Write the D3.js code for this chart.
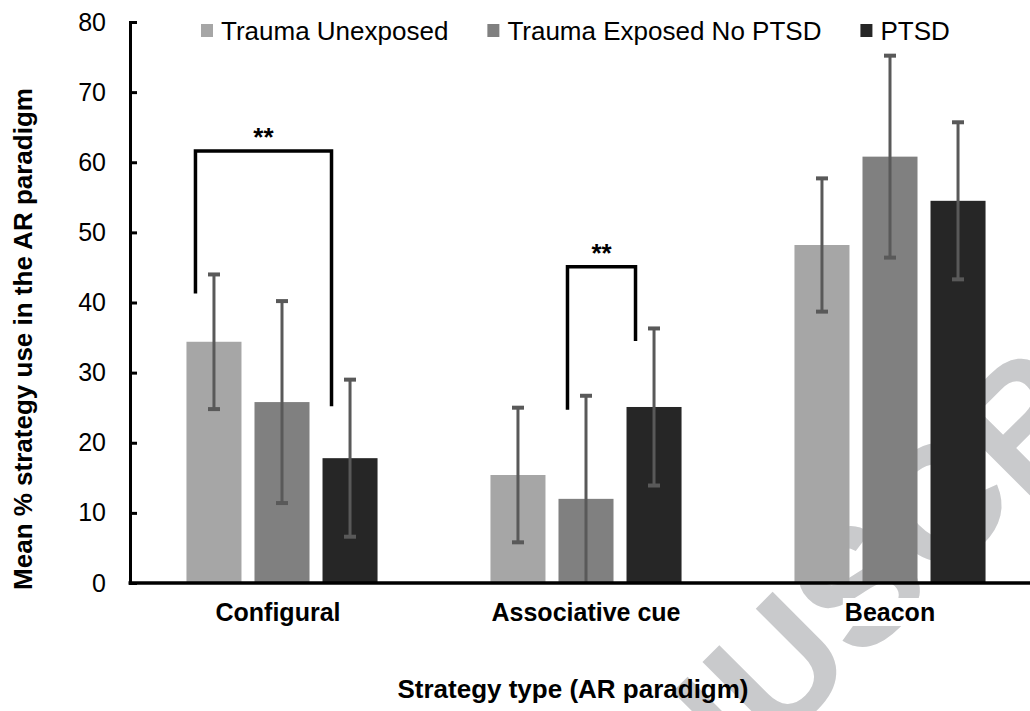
<!DOCTYPE html>
<html>
<head>
<meta charset="utf-8">
<script src="https://cdn.jsdelivr.net/npm/d3@7"></script>
<style>
  body { margin: 0; background: #fff; }
  svg { display: block; font-family: "Liberation Sans", Arial, sans-serif; }
</style>
</head>
<body>
<svg id="chart" width="1030" height="711"></svg>
<script>
// ---- data ----
let categories = ["Configural", "Associative cue", "Beacon"];
let groups = ["Trauma Unexposed", "Trauma Exposed No PTSD", "PTSD"];
let groupColors = ["#a6a6a6", "#808080", "#262626"];
// mean % per group, one entry per category
let unexposedMean = [34.4, 15.4, 48.2];
let exposedMean = [25.8, 12.0, 60.8];
let ptsdMean = [17.8, 25.1, 54.5];
// error (+/-)
let unexposedErr = [9.6, 9.6, 9.5];
let exposedErr = [14.4, 14.7, 14.4];
let ptsdErr = [11.2, 11.2, 11.2];
let yTicks = [0, 10, 20, 30, 40, 50, 60, 70, 80];
// significance brackets: category, left group, right group, top, left leg end, right leg end
let brackets = [
  {cat: "Configural", g1: 0, g2: 2, top: 61.6, leftEnd: 41.3, rightEnd: 25.2, label: "**"},
  {cat: "Associative cue", g1: 1, g2: 2, top: 45.1, leftEnd: 24.7, rightEnd: 34.5, label: "**"}
];

let means = [unexposedMean, exposedMean, ptsdMean];
let errs = [unexposedErr, exposedErr, ptsdErr];

let svg = d3.select("#chart");
let left = 130, plotRight = 1042, y0px = 583, yTop = 22;

let x = d3.scaleBand().domain(categories).range([left, plotRight]).padding(0);
let xSub = d3.scaleBand().domain(d3.range(groups.length))
    .range([0, x.bandwidth()]).paddingInner(13 / 68).paddingOuter(0.83);
let y = d3.scaleLinear().domain([0, 80]).range([y0px, yTop]);

// watermark (behind everything)
svg.append("text")
    .attr("transform", "translate(510,1015) rotate(-45)")
    .attr("font-size", 165)
    .attr("font-weight", "bold")
    .attr("fill", "#c9cacc")
    .text("MANUSCRIPT");

// bars
let rows = [];
categories.forEach(function(c, ci) {
  groups.forEach(function(g, gi) {
    rows.push({cat: c, g: gi, mean: means[gi][ci], err: errs[gi][ci]});
  });
});

svg.append("g").selectAll("rect")
  .data(rows)
  .enter().append("rect")
    .attr("x", function(d) { return x(d.cat) + xSub(d.g); })
    .attr("y", function(d) { return y(d.mean); })
    .attr("width", xSub.bandwidth())
    .attr("height", function(d) { return y(0) - y(d.mean); })
    .attr("fill", function(d) { return groupColors[d.g]; });

// error bars
let eb = svg.append("g").attr("stroke", "#595959").attr("stroke-width", 3);
rows.forEach(function(d) {
  let cx = x(d.cat) + xSub(d.g) + xSub.bandwidth() / 2;
  let hi = d.mean + d.err, lo = d.mean - d.err;
  eb.append("line")
    .attr("x1", cx).attr("x2", cx)
    .attr("y1", y(hi)).attr("y2", y(Math.max(lo, 0)));
  eb.append("line")
    .attr("x1", cx - 6).attr("x2", cx + 6)
    .attr("y1", y(hi)).attr("y2", y(hi)).attr("stroke-width", 4);
  if (lo >= 0) {
    eb.append("line")
      .attr("x1", cx - 6).attr("x2", cx + 6)
      .attr("y1", y(lo)).attr("y2", y(lo)).attr("stroke-width", 4);
  }
});

// significance brackets
brackets.forEach(function(b) {
  let xl = x(b.cat) + xSub(b.g1) + 9;
  let xr = x(b.cat) + xSub(b.g2) + 9;
  svg.append("path")
    .attr("d", "M" + xl + "," + y(b.leftEnd) + "V" + y(b.top) + "H" + xr + "V" + y(b.rightEnd))
    .attr("fill", "none")
    .attr("stroke", "#000")
    .attr("stroke-width", 3.5);
  svg.append("text")
    .attr("x", (xl + xr) / 2)
    .attr("y", y(b.top) - 5)
    .attr("text-anchor", "middle")
    .attr("font-size", 26)
    .attr("font-weight", "bold")
    .text(b.label);
});

// y axis
let yAxis = svg.append("g")
    .attr("transform", "translate(" + left + ",0)")
    .call(d3.axisLeft(y).tickValues(yTicks).tickSize(-7).tickPadding(24));
yAxis.select(".domain").attr("stroke", "#000").attr("stroke-width", 3);
yAxis.selectAll(".tick line").attr("stroke", "#000").attr("stroke-width", 3);
yAxis.selectAll(".tick text")
    .attr("font-size", 25)
    .attr("font-family", "Liberation Sans, Arial, sans-serif")
    .attr("fill", "#000");

// x axis line
svg.append("line")
    .attr("x1", left - 1.5).attr("x2", 1030)
    .attr("y1", y(0)).attr("y2", y(0))
    .attr("stroke", "#000").attr("stroke-width", 3.5);

// category labels on white boxes
let catG = svg.append("g").selectAll("g")
  .data(categories)
  .enter().append("g");
catG.append("text")
    .attr("x", function(d) { return x(d) + x.bandwidth() / 2 - (d === "Configural" ? 4 : 0); })
    .attr("y", 621)
    .attr("text-anchor", "middle")
    .attr("font-size", 25)
    .attr("font-weight", "bold")
    .text(function(d) { return d; });
catG.each(function() {
  let g = d3.select(this);
  let bb = g.select("text").node().getBBox();
  g.insert("rect", "text")
    .attr("x", bb.x - 2).attr("y", bb.y)
    .attr("width", bb.width + 4).attr("height", bb.height)
    .attr("fill", "#fff");
});

// axis titles
svg.append("text")
    .attr("x", 573).attr("y", 698)
    .attr("text-anchor", "middle")
    .attr("font-size", 26)
    .attr("font-weight", "bold")
    .text("Strategy type (AR paradigm)");

svg.append("text")
    .attr("transform", "translate(32,339) rotate(-90)")
    .attr("text-anchor", "middle")
    .attr("font-size", 26)
    .attr("font-weight", "bold")
    .text("Mean % strategy use in the AR paradigm");

// legend
let lx = 201;
groups.forEach(function(g, i) {
  svg.append("rect")
    .attr("x", lx).attr("y", 24)
    .attr("width", 12).attr("height", 13)
    .attr("fill", groupColors[i]);
  let t = svg.append("text")
    .attr("x", lx + 20).attr("y", 40)
    .attr("font-size", 26)
    .text(g);
  lx += 20 + t.node().getComputedTextLength() + 39;
});
</script>
</body>
</html>
